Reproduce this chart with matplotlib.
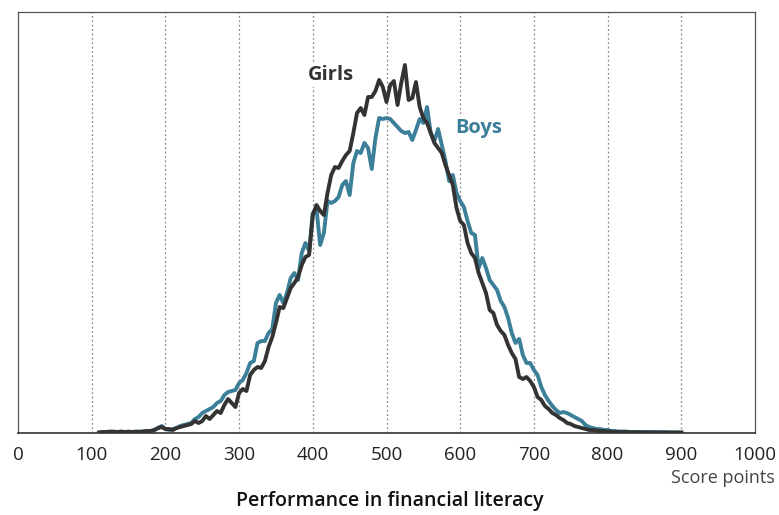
import matplotlib
matplotlib.use("Agg")
import matplotlib.pyplot as plt
import numpy as np

plt.rcParams['font.family'] = ['Open Sans', 'DejaVu Sans']

# Score grid (points on the financial literacy scale)
scores = np.arange(110, 905, 5)

# Relative density of students at each score
girls = [0.5, 1, 1, 1.5, 1, 1, 1.5, 1, 1, 1, 1.5, 1, 1.5, 2, 2, 3, 5, 6, 4, 4,
         3, 5, 6, 7, 8, 9, 12, 10, 12, 17, 14, 18, 22, 20, 28, 34, 30, 26, 40, 44,
         42, 58, 63, 66, 65, 72, 86, 96, 110, 126, 125, 135, 145, 150, 156, 168, 176, 178, 218, 228,
         222, 218, 240, 258, 266, 265, 272, 278, 282, 300, 320, 325, 318, 336, 336, 342, 353, 346, 331, 348,
         352, 328, 350, 368, 333, 335, 351, 326, 315, 310, 300, 290, 285, 280, 268, 258, 248, 225, 212, 208,
         190, 180, 175, 160, 150, 140, 123, 120, 108, 102, 98, 88, 80, 74, 56, 54, 56, 52, 46, 36,
         33, 27, 24, 20, 18, 15, 13, 10, 9, 7, 6, 5, 4, 3, 3, 2.5, 2, 2, 1.5, 1.5,
         1, 1, 1, 1, 0.8, 0.8, 0.8, 0.6, 0.6, 0.6, 0.5, 0.5, 0.5, 0.5, 0.5, 0.5, 0.4, 0.4, 0.4]
boys = [0.5, 1, 1, 1, 1.5, 1, 1, 1, 1.5, 1, 1, 1.5, 1.5, 2, 2, 3, 5, 7, 4, 3,
        4, 5, 7, 8, 9, 10, 14, 16, 20, 22, 24, 26, 30, 32, 38, 41, 42, 43, 50, 53,
        60, 70, 72, 90, 92, 92, 100, 104, 130, 138, 130, 140, 155, 160, 153, 180, 190, 182, 220, 224,
        188, 200, 232, 230, 232, 236, 248, 252, 238, 270, 282, 280, 290, 285, 264, 295, 315, 314, 315, 314,
        310, 306, 302, 300, 301, 293, 303, 314, 310, 326, 300, 292, 304, 288, 272, 252, 258, 240, 232, 226,
        212, 200, 198, 165, 175, 165, 153, 148, 143, 132, 126, 115, 100, 90, 94, 78, 70, 70, 63, 58,
        46, 38, 32, 27, 23, 20, 21, 20, 18, 16, 14, 12, 8, 6, 5, 4, 4, 3, 3, 2,
        2, 1.5, 1.5, 1.5, 1, 1, 1, 1, 1, 1, 1, 0.8, 0.8, 0.8, 0.8, 0.6, 0.6, 0.6, 0.6]

ticks = np.arange(0, 1001, 100)

girls_color = '#333333'
boys_color = '#3b7f99'

fig = plt.figure(figsize=(7.79, 5.15), dpi=100)
ax = fig.add_axes([0.0231, 0.1592, 0.9461, 0.8175])

for x in ticks[1:-1]:
    ax.axvline(x, color='#8c8c8c', linestyle=(0, (1.5, 2)), linewidth=0.9, zorder=0)

ax.plot(scores, boys, color=boys_color, linewidth=2.8, zorder=2)
ax.plot(scores, girls, color=girls_color, linewidth=2.8, zorder=3)

ax.text(424, 358, 'Girls', color=girls_color, fontsize=14.5, fontweight='bold',
        ha='center', va='center', zorder=4,
        bbox=dict(facecolor='white', edgecolor='none', pad=1.5))
ax.text(625, 305, 'Boys', color=boys_color, fontsize=14.5, fontweight='bold',
        ha='center', va='center', zorder=4,
        bbox=dict(facecolor='white', edgecolor='none', pad=1.5))

ax.set_xlim(0, 1000)
ax.set_ylim(0, 421)
ax.set_xticks(ticks)
ax.set_yticks([])
ax.tick_params(axis='x', length=0, pad=9, labelsize=13.5, labelcolor='#222222')

for side in ['top', 'right', 'left']:
    ax.spines[side].set_color('#555555')
    ax.spines[side].set_linewidth(0.9)
ax.spines['bottom'].set_color('#333333')
ax.spines['bottom'].set_linewidth(1.2)

fig.text(0.995, 0.072, 'Score points', ha='right', va='center',
         fontsize=13, color='#444444')
fig.text(0.5, 0.028, 'Performance in financial literacy', ha='center', va='center',
         fontsize=14, fontweight='semibold', color='#111111')

fig.savefig('out.png', dpi=100)
